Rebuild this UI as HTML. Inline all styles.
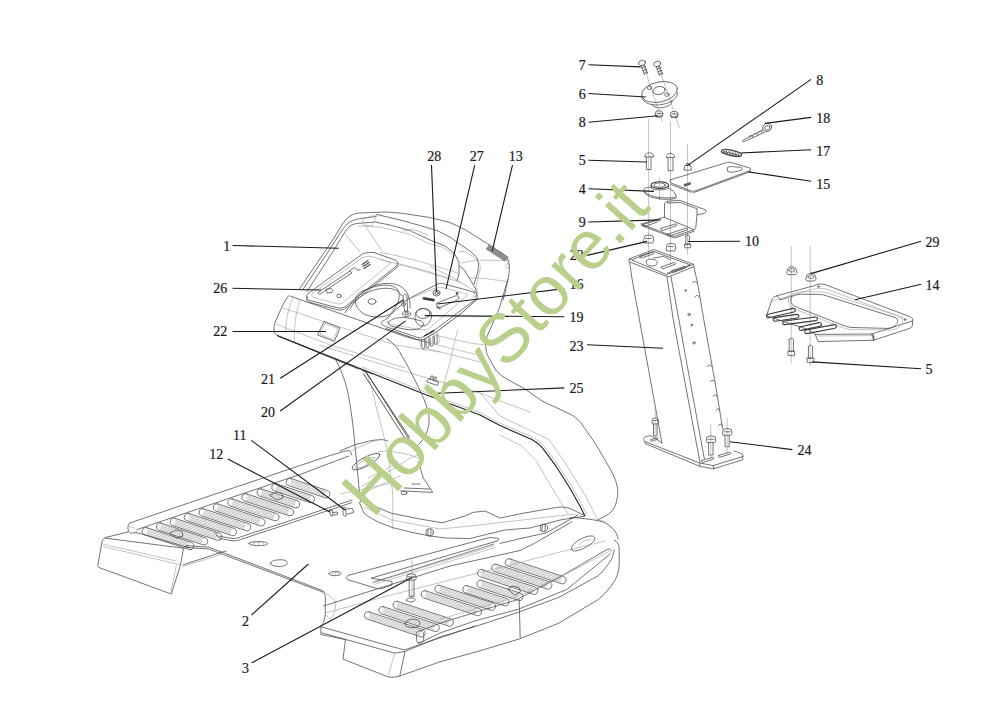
<!DOCTYPE html>
<html><head><meta charset="utf-8"><title>Parts diagram</title>
<style>
html,body{margin:0;padding:0;background:#fff;width:1000px;height:707px;overflow:hidden}
svg{display:block}
.lb{font-family:"Liberation Serif",serif;font-size:14px;fill:#1a1a1a;stroke:#1a1a1a;stroke-width:0.2}
.ld{stroke:#1a1a1a;stroke-width:1.1;fill:none}
.d{stroke:#505050;stroke-width:0.8;fill:none;stroke-linejoin:round;stroke-linecap:round}
.t{stroke:#9a9a9a;stroke-width:0.6;fill:none;stroke-linejoin:round;stroke-linecap:round}
.k{stroke:#222;stroke-width:1.1;fill:none;stroke-linejoin:round;stroke-linecap:round}
.wm{font-family:"Liberation Sans",sans-serif;fill:#b3cd85}
</style></head><body>
<svg width="1000" height="707" viewBox="0 0 1000 707">
<rect width="1000" height="707" fill="#fff"/>
<g id="right-assembly">
<!-- screws 7 and axis lines -->
<g class="t">
<line x1="643" y1="64" x2="662.3" y2="121.7"/>
<line x1="658" y1="65" x2="679.3" y2="127.4"/>
<line x1="648.6" y1="119.5" x2="648.6" y2="258"/>
<line x1="670.5" y1="121.7" x2="670.5" y2="265"/>
<line x1="687.5" y1="144" x2="687.5" y2="254"/>
<line x1="791.2" y1="246.5" x2="791.2" y2="363"/>
<line x1="810.2" y1="246.5" x2="810.2" y2="365"/>
</g>
<g class="d">
<ellipse cx="642" cy="63" rx="3.6" ry="2.6" transform="rotate(-20 642 63)"/>
<path d="M641,65.5 L644.5,74.5 M644.2,64.7 L647.5,73.6 M641.8,68 l4,-1.4 M642.8,70.8 l4,-1.4 M643.8,73.4 l3.6,-1.2"/>
<ellipse cx="657.2" cy="64" rx="3.6" ry="2.6" transform="rotate(-20 657.2 64)"/>
<path d="M656.3,66.5 L659.5,75.5 M659.4,65.7 L662.6,74.6 M657,69 l4,-1.4 M658,71.8 l4,-1.4 M659,74.4 l3.6,-1.2"/>
<!-- flange 6 -->
<ellipse cx="659.5" cy="92" rx="18.2" ry="10" transform="rotate(-12 659.5 92)"/>
<path d="M641.8,97 C643,104 653,106 662,104.5 C672,102.5 678,98 677.5,93"/>
<path d="M652,104.5 C654,108.5 662,108.8 668,106 C671,104.5 672.5,102.5 672,100.5"/>
<ellipse cx="659" cy="90.5" rx="6.2" ry="4" transform="rotate(-12 659 90.5)"/>
<ellipse cx="649.3" cy="87.8" rx="2.4" ry="1.7"/>
<ellipse cx="666.9" cy="94.6" rx="2.4" ry="1.7"/>
<!-- nuts 8 -->
<ellipse cx="659" cy="113.6" rx="3.8" ry="3"/>
<path d="M655.4,114.5 L656,117 L662,117 L662.6,114.5 M657,113.4 l4,0"/>
<ellipse cx="674.2" cy="114.2" rx="3.8" ry="3"/>
<path d="M670.6,115 L671.2,117.6 L677.2,117.6 L677.8,115 M672.2,114 l4,0"/>
<!-- bolts 5 -->
<path d="M644.7,156.5 C644.7,151.5 653.8,151.5 653.8,156.5 Z M646.4,157 L646.4,169.5 L651,169.5 L651,157"/>
<path d="M666.2,157 C666.2,152 674.7,152 674.7,157 Z M668,157.6 L668,170.7 L673,170.7 L673,157.6"/>
<!-- nut 8 on plate -->
<path d="M684,169.8 L684.8,165.4 L690.5,165.4 L691.4,169.8 Z M686,165.4 L686.5,163.6 L689,163.6 L689.6,165.4"/>
<!-- part 4 bushing -->
<ellipse cx="659.8" cy="185.1" rx="8.8" ry="3.3" stroke="#333" stroke-width="1.1"/>
<ellipse cx="659.6" cy="185.1" rx="5.8" ry="2.2" stroke="#444"/>
<path class="t" d="M659.5,177.8 L659.5,199.4"/>
<path d="M651,185.5 L651.3,188.3 C653,190.5 666,190.5 668.5,188 L668.6,185.3"/>
<path d="M651,187.5 C646,186.8 643,188.5 644.2,191 C645.5,194 652,196.6 660,197.6 C668,198.2 675,198 676.5,196.5 L674.2,192 C673,190.5 670.5,189.5 668.6,188.5"/>
<path d="M644.2,191 L644.4,192.4 C646,195.5 652,198 660,199 C668,199.6 675,199.4 676.6,197.8"/>
<!-- plate 15 -->
<path d="M670.6,179.8 L726.5,162.6 C728,162 730,162 731,162.4 L750.3,168.2 L750.3,170.5 L695,191 C693.8,191.4 692.5,191.4 691.4,191 L671.3,183.1 Z"/>
<path d="M693.5,192.6 L750.3,171.8 M691.4,192.3 L671.3,184.6"/>
<path d="M727.5,167.5 C729,166 734,166.5 735.5,167 L741,167.2 C742.5,167.8 742.5,170 741,170.5 L736,171.6 C734.5,172.2 730,172.6 728,171.5 Z"/>
<path d="M684.4,184.6 L690,182.7 L690.4,184 L684.8,185.9 Z" stroke-width="1.2"/>
<!-- 17 grommet -->
<path d="M722.5,149.8 C727,148.5 737,151 741,153.5 C742.5,155 741,157 738,156.6 C733,156 725,154 722,152.5 C720.8,151.6 721.3,150.2 722.5,149.8 Z" stroke-width="1.4"/>
<path d="M724,151.6 l15.5,3.8 M723.2,150.6 l1.5,2.6 M726,150.6 l1.5,3 M729,151.2 l1.5,3 M732,152 l1.5,3 M735,152.8 l1.5,3 M738,153.8 l1.2,2.4" stroke="#555" stroke-width="0.9"/>
<!-- 18 clip pin -->
<ellipse cx="767.2" cy="127.4" rx="4.6" ry="4" transform="rotate(-25 767.2 127.4)"/>
<ellipse cx="767.4" cy="127.8" rx="2.6" ry="2.3" transform="rotate(-25 767.4 127.8)"/>
<path d="M763,130 L742.5,140.6 L743.5,142 L764.5,132.3 M749,136.4 C751,134.6 754,135.6 753,137.6 M754,134 C756.5,132.4 759,133.8 757.5,135.8 M758.5,131.8 C761,130.2 763.5,131.6 762,133.6"/>
</g>
<!-- bracket 9 -->
<g class="d">
<path d="M664.5,217.2 L664.5,203.8 C664.8,202.3 666,201.5 667.4,201.3 L679.8,200.4 L705.3,209.8 L705.9,211.5 L704.2,213.5 L697,214.8 L695.7,228.5 L694,229.8"/>
<path d="M667.4,201.3 L667.6,203.2 L680,202.4 L697,208.8 L697,214.8"/>
<path d="M641.3,224 L664,217.2 L694,229.6 L674.5,236.4 Z"/>
<path d="M641.4,225.6 L674.5,238 L694.2,231.2"/>
<path d="M643.2,224.5 L656,220.6 C657.5,220.3 658.2,221.6 657,222.2 L644.8,226.5 C643.5,226.8 642.5,225 643.2,224.5 Z"/>
<path d="M661,228.5 L675,224 C676.5,223.6 678,225 676.5,225.6 L663,230.5 C661.3,231 660,229 661,228.5 Z"/>
<path d="M667,234.4 L686,228.2 C687.5,227.8 688.5,229.4 687,230 L669.6,236 C668,236.4 666.2,235 667,234.4 Z"/>
<!-- nuts 22 -->
<path d="M643.8,240 L644.8,236 L648.6,234.8 L652.8,236 L653.8,240 L652.6,243 L644.8,243 Z M646,238.5 l5,0"/>
<path d="M666.3,248 L667.3,244.2 L670.8,243.2 L675,244.2 L675.8,248 L674.6,251 L667.3,251 Z M668.4,246.6 l5,0"/>
<!-- bolt 10 -->
<path d="M685.8,236 L685.8,244.5 L689.4,244.5 L689.4,236 C689.4,234.8 685.8,234.8 685.8,236 Z M684.4,244.5 L684.8,247.8 L690.4,247.8 L690.8,244.5 Z"/>
</g>
</g>
<g id="column" class="d">
<!-- top face -->
<path d="M629.6,258.7 L653.9,249.6 L693.5,264.3 L667,274.5 Z"/>
<path d="M632.5,259.5 L654,251.6 L690.5,265 L667.5,273"/>
<path d="M629.6,258.7 C628.5,259.5 628.6,261.5 629.6,262 L667,276.5 C668.5,277 670,276.5 671,275.8 L693.5,266.8 C694.5,266.2 694.3,264.8 693.5,264.3"/>
<path d="M640,256.2 L652,252 C653.5,251.6 654.8,253.2 653.5,253.8 L641.6,258 C640,258.4 639,256.6 640,256.2 Z"/>
<path d="M646.3,261.5 C646.3,259.5 650,258.5 654,259.5 C657,260.5 657.8,262.4 657,264 C655.6,266.4 650,266.6 647.6,265 C646.6,264.3 646.3,263 646.3,261.5 Z"/>
<path d="M653.5,258 L663,256.5 C665,256.5 668,258.8 670,259.8"/>
<path d="M661.5,266.8 L674,262.5 C675.5,262.2 676.6,263.8 675.2,264.3 L663,268.8 C661.5,269.2 660.5,267.4 661.5,266.8 Z"/>
<path d="M672,270.6 L684,266.5 C685.5,266.2 686.3,267.6 685,268.2 L673.5,272.4 C672,272.8 671,271 672,270.6 Z"/>
<!-- edges -->
<path d="M629.6,262 L632.2,280 L648.6,370 L661.9,442.8"/>
<path d="M667,276.5 L673.2,319.2 L682.7,370 L699.8,461.5"/>
<path d="M670.8,276 L678.8,319.2 L688,370 L704.3,458.5"/>
<path d="M693.8,266.8 L697.6,283 L703.7,319.2 L715.4,384 L722.6,428.5"/>
<!-- notches on right edge -->
<path d="M692.6,282.8 C693,281 696.2,281 697.3,283.2 M694.8,297.2 C695.2,295 698.6,294.6 699.3,297 M707.5,366.5 C708,364.5 711,364.6 711.7,366.6 M710.2,381.8 C710.8,379.8 713.8,379.8 714.6,381.8 M713.2,396.2 C713.8,394.2 716.6,394.2 716.9,396.4 M716.2,410.2 C716.8,408.2 719.4,408.2 719.6,410.4 M718.4,425.8 C719,423.6 721.8,423.6 722.2,425.6"/>
<circle cx="685.7" cy="290.4" r="0.9"/>
<circle cx="689" cy="314.5" r="1.2"/>
<circle cx="691.7" cy="325" r="0.9"/>
<circle cx="693.9" cy="342.9" r="1.2"/>
<!-- base plate -->
<path d="M661.9,442.8 L650.5,435.6 C647,436.2 644.5,436.8 644.1,437.6 C643.2,438.6 643.4,440.5 644.9,441.6 L699.8,463 L713.2,465.6 L742.9,456.5 L742.6,454.2 L734,450.8"/>
<path d="M644.9,441.6 L645,443.5 L699.8,466.3 L713.6,468.8 L742.6,459.8 L742.9,456.5"/>
<path d="M699.8,463 L699.8,466.3 M713.4,465.6 L713.6,468.8"/>
<path d="M701.8,460.4 L712.5,457.4 C714,457.2 714.6,458.7 713.2,459.2 L703,462.5 C701.5,462.8 700.8,461 701.8,460.4 Z"/>
<path d="M718.8,455.4 L729.6,452.2 C731,452 731.6,453.5 730.2,454 L719.8,457.3 C718.5,457.6 717.8,455.8 718.8,455.4 Z"/>
<path d="M650.2,440 L657,437.8 C658,437.6 658.6,438.9 657.6,439.2 L651,441.4"/>
<!-- bolts 24 -->
<path d="M652,422.5 L652.6,418.8 L655.2,417.8 L658,418.8 L658.6,422.5 L657.5,424 L653,424 Z M653.5,424 L653.5,436 L657,436 L657,424 M653.5,420.5 l4,0"/>
<path d="M706.2,441 L706.8,437 L711,435.8 L715.2,437 L715.8,441 L714.6,442.6 L707.4,442.6 Z M708.6,442.6 L708.6,455 L713,455 L713,442.6 M708,439.3 l6,0"/>
<path d="M722.4,433.6 L723,429.6 L727.2,428.4 L731.4,429.6 L732,433.6 L730.8,435.2 L723.6,435.2 Z M725,435.2 L725,446.8 L729.2,446.8 L729.2,435.2 M724.2,431.8 l6,0"/>
</g>
<g class="t">
<line x1="655.2" y1="408" x2="655.2" y2="440"/>
<line x1="710.8" y1="425" x2="710.8" y2="460"/>
<line x1="727.2" y1="418" x2="727.2" y2="453"/>
</g>
<g id="bracket14" class="d">
<path d="M766.4,315.8 L772,299.6 C773,297.5 774.5,296.4 776.5,295.9 L814.4,285.6 C816.5,284.4 819,283.8 821.5,284 L825,284.6 L909.6,316.6 C911.8,317.4 913,318.6 912.8,320 L912.2,326.4 C912,327.2 911,327.8 910,328.2 L873.8,340.2 L818,341.6 L815.2,334.4 L808,329.5 L766.4,315.8"/>
<path d="M815.2,334.4 L871.8,334 L873.8,340.2 M871.8,334 C873.4,334.2 873.6,339.6 873.8,340.2 M871.8,334 L912.2,321"/>
<path d="M817,336 L872,335.6" class="t"/>
<path d="M776.5,295.9 C778.5,297 780,298.2 780,300 L792.5,296 C795,295 797.5,294.5 800.5,294.3 L819.5,294.4 C822,294.5 824.5,295 827,296 L895,317.5 C898,318.6 898,321 897,323.5 L894.5,326 C893,327.4 890.5,328.2 887.5,328.4 L852,327.5 C849.5,327.3 847,326.8 845,326 L797.5,307.5 C793.5,306 791,303.6 790.8,300.6 C790.8,298.5 791.5,297 792.5,296"/>
<path d="M788.5,299.5 C787,297.6 788.5,295.5 791.5,294.2 C795,292.8 800,292 805,291.8 L820,291.8 C823,291.9 826,292.5 829,293.5 L900,316.5 C903,317.8 903,321 901.5,324.5 C900,327.5 896,329.6 890,330 L851,329.6 C848,329.4 845.5,328.8 843,327.8 L795,309.2 C790.5,307.4 788,304.4 788.5,299.5" class="t"/>
<path d="M772,301 L810,290 C815,288.6 820,288.2 826,288.8 L905,318.5" class="t"/>
<!-- slots -->
<path d="M768.1,314.2 L793.1,308.4 A1.8,1.8 0 0 1 793.9,312.0 L768.9,317.8 A1.8,1.8 0 0 1 768.1,314.2 Z" stroke="#3a3a3a" stroke-width="1.1"/>
<path d="M774.7,317.6 L796.7,314.4 A1.8,1.8 0 0 1 797.3,318.0 L775.3,321.2 A1.8,1.8 0 0 1 774.7,317.6 Z" stroke="#3a3a3a" stroke-width="1.1"/>
<path d="M784.3,321.0 L815.4,317.0 A1.8,1.8 0 0 1 815.8,320.6 L784.7,324.6 A1.8,1.8 0 0 1 784.3,321.0 Z" stroke="#3a3a3a" stroke-width="1.1"/>
<path d="M800.6,326.8 L819.2,322.6 A1.8,1.8 0 0 1 820.0,326.2 L801.4,330.4 A1.8,1.8 0 0 1 800.6,326.8 Z" stroke="#3a3a3a" stroke-width="1.1"/>
<path d="M806.2,330.0 L834.3,324.6 A1.8,1.8 0 0 1 834.9,328.2 L806.8,333.6 A1.8,1.8 0 0 1 806.2,330.0 Z" stroke="#3a3a3a" stroke-width="1.1"/>
<circle cx="818.5" cy="286.6" r="0.9"/>
<circle cx="905" cy="319.6" r="0.9"/>
<path d="M872.6,334.2 C874.4,334.6 874.6,339.4 873,340" />
<!-- nuts 29 -->
<path d="M786.6,272.6 L787.8,268.6 L791.8,266.2 L795.8,268.6 L797,272.6 L795.4,274.6 L788.2,274.6 Z M789,270.6 C789,267.8 794.6,267.8 794.6,270.6 C794.6,272.4 789,272.4 789,270.6 Z"/>
<path d="M805.8,279 L807,275 L811,272.6 L815,275 L816.2,279 L814.6,281 L807.4,281 Z M808.2,277 C808.2,274.2 813.8,274.2 813.8,277 C813.8,278.8 808.2,278.8 808.2,277 Z"/>
<!-- bolts 5 -->
<path d="M789.2,339.6 L789.2,351.5 L793.4,351.5 L793.4,339.6 C793.4,337.8 789.2,337.8 789.2,339.6 Z M787.8,351.5 L788.2,355.6 L794.4,355.6 L794.8,351.5 Z"/>
<path d="M808.4,346.6 L808.4,358.4 L812.6,358.4 L812.6,346.6 C812.6,344.8 808.4,344.8 808.4,346.6 Z M807,358.4 L807.4,362.6 L813.6,362.6 L814,358.4 Z"/>
</g>
<g id="hood">
<g class="d">
<!-- outer visor line A -->
<path d="M299.7,288.6 L327.6,247.5 L334,238 L340,228 C343,223 346.5,218.5 350,216 C353,214 356,213.3 360,213 L385.7,212 L400,213 L430,217.5 L450,222.5 L465,229.5 L487.5,243.8 L496,250"/>
<!-- second rim line -->
<path d="M302.5,290 L330,249 L337,238 C341,231 345,225.5 349,222.5 C353,220 358,218.6 364,218 L376,216.5"/>
<!-- B inner rim -->
<path d="M307,291.5 L334,250 L341,238.5 C343.5,234 346.5,229 350,226 C353,223.8 358,223.2 363,223 L375,222 L390,225 L410,230.6 L430,240 L445,246 L454,253 L459,262 L459,273.5 L457,281"/>
<!-- C line -->
<path d="M377,214.5 L400,220 L420,225.5 L437,230.5 L450,237 L459.2,243.8 L470,251 L476.5,257 C479,262 479,268 477,275 L474,284"/>
<!-- D light -->
<path class="t" d="M358,226 L380,227 L410,234.5 L430,244 L442,247 L456,256.6"/>
<!-- corner quad -->
<path class="t" d="M363,219 L377,214.5 L372,226 L364,225 Z"/>
<!-- creases -->
<path class="t" d="M345,234 L360,252 M366,227 L382,251"/>
<!-- right side of hood -->
<path d="M496,250 C503,253 507,256 508.5,261 C510,266 509.5,272 508,279 L505,293 L503,300"/>
<path class="t" d="M459.4,251.5 L465.1,251.5 L475.3,258.3 L479.8,264 L480.4,268.5 L478.7,275.3 L475.3,290 L473,298"/>
<path class="t" d="M461.7,262.8 L477.6,260 L509.3,260.6"/>
<path class="t" d="M469.6,277.6 L486.6,278.7 L507,281.5"/>
<path d="M460,266.2 L464,269.6 L476.4,290 C477.5,292 477.2,294.5 475.3,296.8"/>
<path class="t" d="M505.5,266 L507.5,262.8 L509.3,267 L507.5,268.6 Z"/>
<path class="t" d="M430,266.2 L452.6,277.6 L464,284.4 L476.4,292.3"/>
</g>
<path class="t" d="M380,252.3 L394,255 L422.5,262.2 L450.7,270.7 L459.2,273.5"/>
<path class="t" d="M380,259.4 L412.5,267.9 L450.7,279.2"/>
<path class="t" d="M396,263 L430,272 L460.4,282.5"/>
<path class="t" d="M403,231 L412,229 L428,235"/>
<!-- part 13 grey strip -->
<path d="M486,249 L489.5,244.6 L508.2,257.2 L505,261.2 Z" fill="#8c8c8c" stroke="#777" stroke-width="0.6"/>
<g class="d">
<!-- lower front box -->
<path d="M289,295.5 C285,300 282,306.8 282,306.8 L275.6,320.9 C273.8,325.5 273.6,330 274.5,332.5 C275.5,335 278,336 280.5,337 L358.4,369"/>
<path d="M277.7,335.8 L361.2,369.5 L372,374"/>
<path d="M290.5,296.2 L332.9,311 L380,327.5 L405,336.5 L430,343"/>
<path class="t" d="M294,296 C289,305 286,318 285.5,332 M300,300 C296,312 294,325 294.5,342"/>
<path class="t" d="M283,308 L340,327 L395,345 L440,352"/>
<path class="t" d="M276,324 L330,345 L380,360 L405,368"/>
<!-- square 22 -->
<path d="M324.4,321.6 L340,328 L334.3,341.4 L318,335.1 Z"/>
<path d="M325.4,323.6 L338,328.8 L333.4,339.6 L320.2,334.4 Z" class="t"/>
<!-- panel 26 -->
<path d="M362.5,254 C366,252.5 370,252.2 374,252.5 L395,260 C398,261.5 398.5,263.5 397,265.5 L346,306 C343.5,308 340.5,308.5 337.5,307.8 L310,300.5 C306.5,299.5 305.5,296.5 307.5,294 Z"/>
<path d="M307.5,297 C306.2,299.8 306.6,301.5 310,302.5 L337.5,309.8 C340.5,310.5 343.5,310 346,308 L397,267.5 C398.4,266.4 398.4,265.4 397,265.5" />
<path class="t" d="M312.5,293 L362,258 C365,256.2 369,256 372,256.6 L391,262.8 L343,302.5 C341,304 339,304.4 337,303.8 L314,297.5 C311.5,296.8 311,294.5 312.5,293 Z"/>
<path d="M318,292.6 L350,271 L352,272.8 L320,294.2 Z"/>
<path d="M349.5,271 L352.2,268.8 C353.6,267.6 355.6,267.6 356.6,268.8 L357.8,270.5 L360.2,269.4" />
<path d="M362,264.5 L368,260.5 M363,266.5 L369,262.5 M364,268.5 L370,264.5" stroke-width="1.3"/>
<path d="M326.5,289.2 L331,288.6 L333,290.4 L332,292.4 L327.5,293 Z"/>
<ellipse cx="339" cy="296" rx="2.2" ry="1.7"/>
<!-- loop cable and mouse shape -->
<path d="M345,313 C352,300 363,290 375,285.5 C387,281.5 399,283 405,290 C409,295 410.5,301 410,308"/>
<path d="M350,309 C356,298 366,291.5 378,289 C390,287 398,289 402,296"/>
<path d="M365,290 C378,284 393,283 398,290 C401,296 398,306 391,314 C384,318 372,318 364,314 C357,310 354,303 356,297 C358,293 361,291.5 365,290"/>
<ellipse cx="372" cy="301.5" rx="4" ry="2.8"/>
<!-- console -->
<path d="M407.6,299.2 L438,283.9 C439.5,283.3 441,283.2 442.2,283.4 L469.5,290.8 L475.8,292.9 C477.6,294 477.8,297 475.8,299.2 L459,311.8 L433.8,330.7 L424.4,336 C422.5,337.5 420.5,338 419.1,338 L385.5,326.5 C382,325.5 380.5,323.5 382,321.5 L384.5,320.2 Z"/>
<path d="M478,298.5 L461,313.5 L435.5,332.6 L426,338 C424,339.4 421.5,340.2 419,340.2 L386,328.6" stroke="#333"/>
<path d="M433.8,330.7 L424.4,336" stroke="#222" stroke-width="1.4"/>
<path class="t" d="M387,321.5 L393,309 C395,306 398,304 401,302.5 L433,289 C437,287.5 441,287.2 444.5,288 L468,294.5 L431,327 C429,329 426,330.5 422.5,330 L392,324.6 C389,324 386.5,323.4 387,321.5 Z"/>
<path d="M388.5,322.5 C391,318 400,316.5 410,318.2 L420,320.6 C424,321.6 424.5,324.5 422,326.8 L419.5,328.5 C416,330.2 410,330.2 404,329 L393,326.6 C390,326 388,324.4 388.5,322.5 Z"/>
<!-- key -->
<path d="M403,297 C402.5,294.5 405.5,293.2 407,295.3 L407.5,311 L405,311 Z"/>
<path d="M401.5,304 L404,302.5 L406,304 L403,306 Z"/>
<ellipse cx="406.5" cy="314" rx="4.2" ry="2.5"/>
<ellipse cx="406.5" cy="313.8" rx="2" ry="1.2"/>
<!-- knob 19 -->
<path d="M416,312.5 C418,308 426,307 430,311 C432.5,313.5 432,318 430,321 C428,324.5 426,326 422,326 C418,325.6 415.5,322 415,318 C414.8,316 415,314 416,312.5 Z"/>
<ellipse cx="423" cy="313.5" rx="7" ry="5"/>
<!-- button 28 -->
<ellipse cx="436.5" cy="293" rx="3.6" ry="3"/>
<ellipse cx="436.5" cy="293" rx="1.8" ry="1.5"/>
<!-- BIO -->
<path d="M423.5,297.2 L434.5,299.2 L434,301.2 L423,299.2 Z" fill="#333" stroke="#333" stroke-width="0.5"/>
<!-- switch 16 -->
<path d="M437,303 L455,296 C457,295.3 459,296 459,297.8 L458.5,299.5 L441,307 C439,307.8 436.5,307 436.5,305 Z"/>
<path d="M437,307 L440,308.6" stroke-width="1.3"/>
<circle cx="457" cy="293.5" r="1" fill="#333"/>
<!-- connectors under console -->
<path d="M421.5,339.5 L421.8,347.5 C422,349 424.5,349.2 424.8,347.6 L424.6,339.5 M425.8,338.8 L426.2,346.6 C426.4,348 428.8,348 429,346.5 L428.8,338 M430,337.6 L430.4,345.2 C430.6,346.6 433,346.4 433.2,345 L433,336.4 M434.2,335.8 L434.6,343.4 C434.8,344.8 437,344.4 437.2,343 L437,333.8"/>
<path class="t" d="M419,338.5 L420.5,346 M437.5,333 L440,341 L437.5,344"/>
</g>
</g>
<g id="body" class="d">
<!-- dark fender edge (double) -->
<path d="M277.7,335.8 L361.2,369 L425.2,394.5 L480,414.9 L500,425.6 L531.8,439.4 C536,441.5 539.5,444.5 542.4,447.9 L555.1,464.8 L570,488.2 L580.6,507.3 L584.8,515.7" stroke="#222" stroke-width="1.1"/>
<path class="t" d="M362,367 L425.5,392.3 L480,412.6 L500,423.2 L532.5,437.2 C537,439.5 541,442.5 544,446.2 L557,463.5 L572,487 L582.6,506.3 L587,514.6"/>
<!-- outer fender contour -->
<path d="M508,279 L499,309 L487.2,336 C485,342 485.5,350 487.2,354.7 L495.7,370 C498.5,373.5 502,376.5 505.8,378.5 L524.5,388.7 L542.4,401.2 L570,414 C574,416 577.5,419 580.6,422.4 L595.4,443.6 L610.3,469.1 C613.5,475 615.5,479.5 616.6,483.9 C617.8,488 618,491 617.7,494.5 C617.2,499 616.3,503.5 614.5,507.3 C612.5,511 609.5,513.8 606,515.7 L597.6,520"/>
<!-- light lines on fender -->
<path class="t" d="M320,345.3 L420,376 L480,392.8 L500,416 L548.8,439.4 L563.6,460.6 L584.8,494.5 L597.6,520"/>
<path class="t" d="M480,392.8 L500,401 L530,412"/>
<path class="t" d="M500,435.1 L521.2,445.7 L536,460.6 L550.9,486 L567.9,513.6"/>
<path class="t" d="M418.5,340.2 L480,355.5 M425,348 L480,362 M457.5,330 L450,362 L442.2,389.4"/>
<path class="t" d="M426,333 L470,343 L486,345"/>
<!-- tunnel -->
<path d="M335.3,358.9 C341,370 345,380 347.2,389.4 C351,408 353.5,428 354.4,440 L359.2,489.2 L360.8,502"/>
<path class="t" d="M367.5,375.8 C371,385 374,395 376,406.4 L382.4,430 L388,454 L392.8,494 L392.8,529.2"/>
<path d="M362.4,370.7 L366,372 L408.6,438.6 M365.4,371.2 L409.6,437.5 M363.5,373.8 L405.6,439.4" stroke="#333"/>
<path d="M386.2,338.5 C390,341 393.5,343.5 396.4,347 C404,358 414,378 421.9,394.5 C425,401 427.5,408 428.7,414.9 C430,423 428,432 423.6,438.6 C420.5,443 417,446.5 413.4,448.8"/>
<!-- clip 25 -->
<path d="M427,381 L428.5,378.5 L438.5,382 L437.5,385.5 L427,382 Z M430.5,379.5 L431,376 L433,376 L433,380 M433.8,380.6 L434.3,377 L436.2,377.2 L436,381.4"/>
<path class="t" d="M425,384 L428,390 L440,393"/>
<!-- under tunnel floor raised area -->
<path d="M340,450.8 L356,444.4 L372,440.4 L381.6,439.6 C384,439.6 386,440.3 388,441.2"/>
<ellipse cx="366" cy="461.6" rx="15.6" ry="4.4" transform="rotate(-28 366 461.6)"/>
<ellipse cx="365" cy="462.8" rx="11" ry="2.4" transform="rotate(-28 365 462.8)" class="t"/>

<path d="M400.8,490.8 L432.8,492.4 L423.2,478 L420,466.8 L418,462 M404,488 L430,489 M412,484 L420,484"/>
<ellipse cx="404" cy="493" rx="3" ry="1.7"/>
<path class="t" d="M362,486 L395,468 L410,458 L418,455 M370,490 L400,476 M340,494 L392.8,482.8"/>
<path class="t" d="M378,452 C385,450 397,452 410,455 L418,458 M385,470 L398,462 M368,478 L382,471"/>
<!-- fender lower parts -->
<path d="M359.2,502 L364,513.2 C370,518 376,521 380,522.8 L392.8,527.6 L412,532.4 L428,535.6 L445,538 L470,538.5 L505,530 L530,528 L560,520 L585,516"/>
<path d="M360.8,500.4 L391.2,513.2 L420,519 L442.4,522.8 L465,516 L472.8,512.4 L485,511 L500,518 L521.2,513.6 L557.3,507.3 C563,506.5 568,507.5 572.1,509.4 L584.8,515.7"/>
<path class="t" d="M364,507 L392,520 L440,529 L470,526 L505,522 L540,518 L575,514"/>
<circle cx="429.6" cy="532.4" r="3.8"/>
<path d="M428.2,529.4 L427.8,535.4 M431,529.4 L430.8,535.4"/>
<circle cx="543.8" cy="528" r="3.8"/>
<path d="M542.4,525 L542,531 M545.2,525 L545,531"/>
</g>
<path class="d" d="M147.1,527.8 L191.7,542.6 A3.7,3.7 0 0 1 189.4,549.6 L144.7,534.9 A3.7,3.7 0 0 1 147.1,527.8 Z" />
<path class="t" d="M146.6,533.9 L188.4,547.7" stroke="#bdbdbd" stroke-dasharray="1.2,0.9"/>
<path class="t" d="M147.1,532.5 L188.9,546.3" stroke="#bdbdbd" stroke-dasharray="1.2,0.9"/>
<path class="t" d="M147.6,531.1 L189.3,544.9" stroke="#bdbdbd" stroke-dasharray="1.2,0.9"/>
<path class="t" d="M148.0,529.7 L189.8,543.5" stroke="#bdbdbd" stroke-dasharray="1.2,0.9"/>
<path class="d" d="M161.0,523.2 L205.6,537.9 A3.7,3.7 0 0 1 203.3,544.9 L158.7,530.2 A3.7,3.7 0 0 1 161.0,523.2 Z" />
<path class="t" d="M160.6,529.3 L202.4,543.0" stroke="#bdbdbd" stroke-dasharray="1.2,0.9"/>
<path class="t" d="M161.0,527.8 L202.8,541.6" stroke="#bdbdbd" stroke-dasharray="1.2,0.9"/>
<path class="t" d="M161.5,526.4 L203.3,540.2" stroke="#bdbdbd" stroke-dasharray="1.2,0.9"/>
<path class="t" d="M162.0,525.0 L203.8,538.8" stroke="#bdbdbd" stroke-dasharray="1.2,0.9"/>
<path class="d" d="M175.1,518.4 L219.7,533.2 A3.7,3.7 0 0 1 217.4,540.2 L172.7,525.5 A3.7,3.7 0 0 1 175.1,518.4 Z" />
<path class="t" d="M174.6,524.5 L216.4,538.3" stroke="#bdbdbd" stroke-dasharray="1.2,0.9"/>
<path class="t" d="M175.1,523.1 L216.9,536.9" stroke="#bdbdbd" stroke-dasharray="1.2,0.9"/>
<path class="t" d="M175.6,521.7 L217.3,535.5" stroke="#bdbdbd" stroke-dasharray="1.2,0.9"/>
<path class="t" d="M176.0,520.3 L217.8,534.1" stroke="#bdbdbd" stroke-dasharray="1.2,0.9"/>
<path class="d" d="M189.2,513.6 L233.9,528.4 A3.7,3.7 0 0 1 231.5,535.4 L186.9,520.7 A3.7,3.7 0 0 1 189.2,513.6 Z" />
<path class="t" d="M188.8,519.7 L230.6,533.5" stroke="#bdbdbd" stroke-dasharray="1.2,0.9"/>
<path class="t" d="M189.3,518.3 L231.0,532.1" stroke="#bdbdbd" stroke-dasharray="1.2,0.9"/>
<path class="t" d="M189.7,516.9 L231.5,530.7" stroke="#bdbdbd" stroke-dasharray="1.2,0.9"/>
<path class="t" d="M190.2,515.5 L232.0,529.3" stroke="#bdbdbd" stroke-dasharray="1.2,0.9"/>
<path class="d" d="M203.5,508.8 L248.1,523.5 A3.7,3.7 0 0 1 245.8,530.6 L201.2,515.8 A3.7,3.7 0 0 1 203.5,508.8 Z" />
<path class="t" d="M203.0,514.9 L244.8,528.7" stroke="#bdbdbd" stroke-dasharray="1.2,0.9"/>
<path class="t" d="M203.5,513.5 L245.3,527.3" stroke="#bdbdbd" stroke-dasharray="1.2,0.9"/>
<path class="t" d="M204.0,512.1 L245.8,525.9" stroke="#bdbdbd" stroke-dasharray="1.2,0.9"/>
<path class="t" d="M204.4,510.7 L246.2,524.5" stroke="#bdbdbd" stroke-dasharray="1.2,0.9"/>
<path class="d" d="M217.8,503.9 L262.5,518.6 A3.7,3.7 0 0 1 260.1,525.7 L215.5,510.9 A3.7,3.7 0 0 1 217.8,503.9 Z" />
<path class="t" d="M217.4,510.0 L259.2,523.8" stroke="#bdbdbd" stroke-dasharray="1.2,0.9"/>
<path class="t" d="M217.9,508.6 L259.7,522.4" stroke="#bdbdbd" stroke-dasharray="1.2,0.9"/>
<path class="t" d="M218.3,507.2 L260.1,521.0" stroke="#bdbdbd" stroke-dasharray="1.2,0.9"/>
<path class="t" d="M218.8,505.8 L260.6,519.6" stroke="#bdbdbd" stroke-dasharray="1.2,0.9"/>
<path class="d" d="M232.3,499.0 L276.9,513.7 A3.7,3.7 0 0 1 274.6,520.7 L230.0,506.0 A3.7,3.7 0 0 1 232.3,499.0 Z" />
<path class="t" d="M231.9,505.1 L273.6,518.8" stroke="#bdbdbd" stroke-dasharray="1.2,0.9"/>
<path class="t" d="M232.3,503.7 L274.1,517.4" stroke="#bdbdbd" stroke-dasharray="1.2,0.9"/>
<path class="t" d="M232.8,502.2 L274.6,516.0" stroke="#bdbdbd" stroke-dasharray="1.2,0.9"/>
<path class="t" d="M233.3,500.8 L275.0,514.6" stroke="#bdbdbd" stroke-dasharray="1.2,0.9"/>
<path class="d" d="M246.9,494.0 L291.5,508.7 A3.7,3.7 0 0 1 289.2,515.7 L244.5,501.0 A3.7,3.7 0 0 1 246.9,494.0 Z" />
<path class="t" d="M246.4,500.1 L288.2,513.8" stroke="#bdbdbd" stroke-dasharray="1.2,0.9"/>
<path class="t" d="M246.9,498.6 L288.7,512.4" stroke="#bdbdbd" stroke-dasharray="1.2,0.9"/>
<path class="t" d="M247.4,497.2 L289.1,511.0" stroke="#bdbdbd" stroke-dasharray="1.2,0.9"/>
<path class="t" d="M247.8,495.8 L289.6,509.6" stroke="#bdbdbd" stroke-dasharray="1.2,0.9"/>
<path class="d" d="M261.5,488.9 L297.6,500.8 A3.7,3.7 0 0 1 295.3,507.8 L259.2,495.9 A3.7,3.7 0 0 1 261.5,488.9 Z" />
<path class="t" d="M261.1,495.0 L294.3,506.0" stroke="#bdbdbd" stroke-dasharray="1.2,0.9"/>
<path class="t" d="M261.6,493.6 L294.8,504.6" stroke="#bdbdbd" stroke-dasharray="1.2,0.9"/>
<path class="t" d="M262.0,492.2 L295.3,503.2" stroke="#bdbdbd" stroke-dasharray="1.2,0.9"/>
<path class="t" d="M262.5,490.8 L295.7,501.8" stroke="#bdbdbd" stroke-dasharray="1.2,0.9"/>
<path class="d" d="M276.3,483.8 L312.4,495.7 A3.7,3.7 0 0 1 310.1,502.7 L274.0,490.8 A3.7,3.7 0 0 1 276.3,483.8 Z" />
<path class="t" d="M275.9,489.9 L309.1,500.9" stroke="#bdbdbd" stroke-dasharray="1.2,0.9"/>
<path class="t" d="M276.3,488.5 L309.6,499.5" stroke="#bdbdbd" stroke-dasharray="1.2,0.9"/>
<path class="t" d="M276.8,487.1 L310.0,498.0" stroke="#bdbdbd" stroke-dasharray="1.2,0.9"/>
<path class="t" d="M277.3,485.7 L310.5,496.6" stroke="#bdbdbd" stroke-dasharray="1.2,0.9"/>
<path class="d" d="M291.2,478.6 L327.2,490.5 A3.7,3.7 0 0 1 324.9,497.6 L288.8,485.7 A3.7,3.7 0 0 1 291.2,478.6 Z" />
<path class="t" d="M290.7,484.7 L324.0,495.7" stroke="#bdbdbd" stroke-dasharray="1.2,0.9"/>
<path class="t" d="M291.2,483.3 L324.4,494.3" stroke="#bdbdbd" stroke-dasharray="1.2,0.9"/>
<path class="t" d="M291.7,481.9 L324.9,492.9" stroke="#bdbdbd" stroke-dasharray="1.2,0.9"/>
<path class="t" d="M292.1,480.5 L325.4,491.5" stroke="#bdbdbd" stroke-dasharray="1.2,0.9"/>
<path class="d" d="M131,522.6 L196,500.5 L260,479 L330,455.5 L347.4,450.5 C349.5,450 351,451.5 351.6,454.8" />
<path class="d" d="M136.7,529.7 L230,498 L300,474.5 L348.8,456" />
<path class="d" d="M131,522.6 C128,523.6 127.5,526 128.2,530 C128.6,532.5 130.5,533.6 133,533.2 L136.7,532.2" />
<path class="t" d="M129,527 C131,526.6 133.5,527 135,528.5" />
<path class="t" d="M351.6,450.4 L365,444.5 L380,439" />
<path class="d" d="M136.7,533 L142,534 L190,548 M215.2,532.8 C217,535 218.5,536.2 220,536.5 L232.8,538.4 C236,538.6 238.5,538 240.8,536.8 L292,520 L343,503 L352,500" />
<path class="d" d="M216.5,535.5 C218,537.6 220,538.6 222,539 L233,540.8 C236.5,541 239,540.4 241.6,539.2 L292.5,522.4 L343.5,505.4 L352,502.5" />
<path class="d" d="M105.6,537.5 L128.2,531.8" />
<path class="d" d="M105.6,537.5 C103.5,538.5 102.5,540 102,542 L97.8,565 C97.5,566.5 98,567.2 99.2,567.6 L171.3,594 L180.5,565 L183.4,549 C184,547 185.5,546 187.6,545.8" />
<path class="d" d="M105.6,538.2 L182.6,548.1" />
<path class="t" d="M104.1,546.7 L174.9,563.6 L180.5,565" />
<path class="t" d="M102.8,544 L176,561" />
<path class="t" d="M176.2,566 L171,592" />
<path class="d" d="M186.4,545.6 L208.8,547.2 L322.6,590.6 C324.5,592.5 325.5,596 325.4,599 L325.2,614.1 C325,619 323.5,623 321.8,626" />
<path class="t" d="M328.6,595.4 C332,597.5 334.5,600 335.4,602.2 C336,606 335,611 333.7,614.1 L330.3,619.2" />
<path class="t" d="M322.6,590.6 L328.6,595.4 M325.2,614.1 L330.3,619.2" />
<path class="d" d="M186.6,547.4 L208.6,549 L323.2,592.2" />
<path class="d" d="M183.2,564.8 L220,552.8 L226,551" />
<path class="t" d="M182.6,566.5 L221,554.5" />
<path class="d" d="M249,543.6 C249,540.8 267.6,540.8 267.6,543.6 C267.6,546.4 249,546.4 249,543.6 Z" />
<path class="t" d="M253.5,544.8 L254,542.2 L263,542.2 L263.5,544.8 M258.4,542 L258.4,545.2" />
<path class="d" d="M270.5,563.8 C270,560.6 276,559.6 282,559.8 C287.5,560 288.2,563.2 286,565 C283,567 272.5,567.4 270.5,563.8 Z" />
<path class="d" d="M329,573.6 C329,570.8 340.5,570.4 341,573.4 C341.4,576.4 329,576.6 329,573.6 Z" />
<path class="t" d="M332.5,574.4 L333,572.2 L338,572.2 L338.5,574.4 M335.4,571.6 L335.4,575.2" />
<path class="d" d="M329.5,510.5 L330.5,515.5 L333,516 L332.5,511 Z M333,512.5 L337.5,512 L337.5,514.5 L333.5,515" />
<path class="d" d="M342.6,508.5 C342,507 345,506.5 345.4,508 L346.2,515 C346.4,516.6 343.6,516.8 343.4,515.2 Z M346,509 L352.5,508.5 L353.8,512.5 L347,514" />
<path class="d" d="M369.4,612.0 L422.5,629.5 A3.7,3.7 0 0 1 420.2,636.6 L367.0,619.0 A3.7,3.7 0 0 1 369.4,612.0 Z" />
<path class="t" d="M368.9,618.1 L419.3,634.7" stroke="#bdbdbd" stroke-dasharray="1.2,0.9"/>
<path class="t" d="M369.4,616.7 L419.7,633.3" stroke="#bdbdbd" stroke-dasharray="1.2,0.9"/>
<path class="t" d="M369.9,615.3 L420.2,631.9" stroke="#bdbdbd" stroke-dasharray="1.2,0.9"/>
<path class="t" d="M370.3,613.9 L420.7,630.5" stroke="#bdbdbd" stroke-dasharray="1.2,0.9"/>
<path class="d" d="M383.4,606.7 L436.6,624.2 A3.7,3.7 0 0 1 434.3,631.3 L381.1,613.7 A3.7,3.7 0 0 1 383.4,606.7 Z" />
<path class="t" d="M383.0,612.8 L433.3,629.4" stroke="#bdbdbd" stroke-dasharray="1.2,0.9"/>
<path class="t" d="M383.5,611.4 L433.8,628.0" stroke="#bdbdbd" stroke-dasharray="1.2,0.9"/>
<path class="t" d="M383.9,610.0 L434.3,626.6" stroke="#bdbdbd" stroke-dasharray="1.2,0.9"/>
<path class="t" d="M384.4,608.6 L434.7,625.2" stroke="#bdbdbd" stroke-dasharray="1.2,0.9"/>
<path class="d" d="M397.5,601.4 L450.7,618.9 A3.7,3.7 0 0 1 448.4,626.0 L395.2,608.4 A3.7,3.7 0 0 1 397.5,601.4 Z" />
<path class="t" d="M397.1,607.5 L447.4,624.1" stroke="#bdbdbd" stroke-dasharray="1.2,0.9"/>
<path class="t" d="M397.6,606.1 L447.9,622.7" stroke="#bdbdbd" stroke-dasharray="1.2,0.9"/>
<path class="t" d="M398.0,604.7 L448.3,621.3" stroke="#bdbdbd" stroke-dasharray="1.2,0.9"/>
<path class="t" d="M398.5,603.3 L448.8,619.9" stroke="#bdbdbd" stroke-dasharray="1.2,0.9"/>
<path class="d" d="M425.7,590.8 L478.9,608.3 A3.7,3.7 0 0 1 476.5,615.4 L423.4,597.8 A3.7,3.7 0 0 1 425.7,590.8 Z" />
<path class="t" d="M425.2,596.9 L475.6,613.5" stroke="#bdbdbd" stroke-dasharray="1.2,0.9"/>
<path class="t" d="M425.7,595.5 L476.0,612.1" stroke="#bdbdbd" stroke-dasharray="1.2,0.9"/>
<path class="t" d="M426.2,594.1 L476.5,610.7" stroke="#bdbdbd" stroke-dasharray="1.2,0.9"/>
<path class="t" d="M426.6,592.7 L477.0,609.3" stroke="#bdbdbd" stroke-dasharray="1.2,0.9"/>
<path class="d" d="M439.8,585.5 L492.9,603.0 A3.7,3.7 0 0 1 490.6,610.1 L437.4,592.5 A3.7,3.7 0 0 1 439.8,585.5 Z" />
<path class="t" d="M439.3,591.6 L489.7,608.2" stroke="#bdbdbd" stroke-dasharray="1.2,0.9"/>
<path class="t" d="M439.8,590.2 L490.1,606.8" stroke="#bdbdbd" stroke-dasharray="1.2,0.9"/>
<path class="t" d="M440.3,588.8 L490.6,605.4" stroke="#bdbdbd" stroke-dasharray="1.2,0.9"/>
<path class="t" d="M440.7,587.4 L491.1,604.0" stroke="#bdbdbd" stroke-dasharray="1.2,0.9"/>
<path class="d" d="M467.3,585.7 L506.3,598.5 A3.7,3.7 0 0 1 504.0,605.6 L465.0,592.7 A3.7,3.7 0 0 1 467.3,585.7 Z" />
<path class="t" d="M466.9,591.8 L503.0,603.7" stroke="#bdbdbd" stroke-dasharray="1.2,0.9"/>
<path class="t" d="M467.4,590.4 L503.5,602.3" stroke="#bdbdbd" stroke-dasharray="1.2,0.9"/>
<path class="t" d="M467.8,589.0 L503.9,600.9" stroke="#bdbdbd" stroke-dasharray="1.2,0.9"/>
<path class="t" d="M468.3,587.6 L504.4,599.5" stroke="#bdbdbd" stroke-dasharray="1.2,0.9"/>
<path class="d" d="M481.4,580.4 L520.4,593.2 A3.7,3.7 0 0 1 518.0,600.3 L479.1,587.4 A3.7,3.7 0 0 1 481.4,580.4 Z" />
<path class="t" d="M481.0,586.5 L517.1,598.4" stroke="#bdbdbd" stroke-dasharray="1.2,0.9"/>
<path class="t" d="M481.5,585.1 L517.5,597.0" stroke="#bdbdbd" stroke-dasharray="1.2,0.9"/>
<path class="t" d="M481.9,583.7 L518.0,595.6" stroke="#bdbdbd" stroke-dasharray="1.2,0.9"/>
<path class="t" d="M482.4,582.3 L518.5,594.2" stroke="#bdbdbd" stroke-dasharray="1.2,0.9"/>
<path class="d" d="M482.0,569.6 L535.2,587.1 A3.7,3.7 0 0 1 532.9,594.2 L479.7,576.6 A3.7,3.7 0 0 1 482.0,569.6 Z" />
<path class="t" d="M481.6,575.7 L531.9,592.3" stroke="#bdbdbd" stroke-dasharray="1.2,0.9"/>
<path class="t" d="M482.0,574.3 L532.4,590.9" stroke="#bdbdbd" stroke-dasharray="1.2,0.9"/>
<path class="t" d="M482.5,572.9 L532.8,589.5" stroke="#bdbdbd" stroke-dasharray="1.2,0.9"/>
<path class="t" d="M483.0,571.5 L533.3,588.1" stroke="#bdbdbd" stroke-dasharray="1.2,0.9"/>
<path class="d" d="M496.1,564.3 L549.3,581.8 A3.7,3.7 0 0 1 546.9,588.9 L493.8,571.3 A3.7,3.7 0 0 1 496.1,564.3 Z" />
<path class="t" d="M495.6,570.4 L546.0,587.0" stroke="#bdbdbd" stroke-dasharray="1.2,0.9"/>
<path class="t" d="M496.1,569.0 L546.4,585.6" stroke="#bdbdbd" stroke-dasharray="1.2,0.9"/>
<path class="t" d="M496.6,567.6 L546.9,584.2" stroke="#bdbdbd" stroke-dasharray="1.2,0.9"/>
<path class="t" d="M497.0,566.2 L547.4,582.8" stroke="#bdbdbd" stroke-dasharray="1.2,0.9"/>
<path class="d" d="M510.2,559.0 L563.3,576.5 A3.7,3.7 0 0 1 561.0,583.6 L507.8,566.0 A3.7,3.7 0 0 1 510.2,559.0 Z" />
<path class="t" d="M509.7,565.1 L560.1,581.7" stroke="#bdbdbd" stroke-dasharray="1.2,0.9"/>
<path class="t" d="M510.2,563.7 L560.5,580.3" stroke="#bdbdbd" stroke-dasharray="1.2,0.9"/>
<path class="t" d="M510.7,562.3 L561.0,578.9" stroke="#bdbdbd" stroke-dasharray="1.2,0.9"/>
<path class="t" d="M511.1,560.9 L561.5,577.5" stroke="#bdbdbd" stroke-dasharray="1.2,0.9"/>
<path class="d" d="M405,623 C407,619 415,618 419,621 C421,624 419,627 414,627.5 C409,628 404,626.5 405,623 Z" />
<path class="d" d="M508,589 L513,586 L519,587.5 L520.5,592 L515,595 Z" />
<path class="d" d="M170,533 L176,530 L182,531.5 L183,536 L177,538 Z" />
<path class="d" d="M270,495 L276.5,492 L282,493.5 L283,498 L277,500 Z" />
<path class="d" d="M323.5,606 L380,588 L450,566 L520,550.5 L534.7,543.2 L572,521.7" />
<path class="d" d="M500,543.5 L520,538.6 L546,533 L572,518.3 L577.7,514.9" />
<path class="t" d="M326,613 L380,597.9 L450,580 L520,562.5 L560,552 L605,541" />
<path class="d" d="M320.9,626.8 L403.2,649.7 C404,650 404.6,650 405,649.7 L475,626" />
<path class="d" d="M320.9,626.8 L320.9,634.5 L345.5,639.6 L343,659.1 L388,676.9 C392,677.6 396,677.2 399.8,676 L440,661.8 L479.6,650.9 L519.2,639 L558.8,623.2 L598.4,599.4 C605,594 610,588 614.3,581.6 C617.5,576 619.2,570 619.2,563.8 L619.2,547.9 C619,544.5 617,541.5 614.3,540" />
<path class="d" d="M321.8,632.8 L394.7,653.1 L405,651.4 L399.8,676" />
<path class="t" d="M394.7,653.1 L388,676.9" />
<path class="d" d="M405,651.4 L440,637 L479.6,625.1 L518.2,612.3 L558.8,597.4 L598.4,575.6 C604,570 609,564 612.3,557.8 L614.3,549.9" />
<path class="d" d="M519.2,599.4 L520.2,638" />
<path class="d" d="M416.5,637 C415.5,633 417,630.8 420.2,630.8 L440,623.2 L475,612.4 L515.2,600.4 L558.8,577.6 L606.3,549.9 C608.5,548.6 610.5,548.8 611.5,550.5" />
<path class="d" d="M418,643 L423.6,641 L440,633 L475,620.9 L518.2,609.3 L566.7,589.5 L610.3,553.9" />
<path class="d" d="M416.5,637 C416.5,640 417,642.5 418,643 C420.5,643.5 422.5,642.6 423.6,641 L423.8,634 C423,631.5 421.5,630.8 420.2,630.8" />
<path class="t" d="M440,619.2 L515.2,597.4 L566.7,573.7 L610.3,550.9" />
<path class="d" d="M570.3,517.4 C580,518 590,519 599.7,521 C605,522.5 609.5,525 612.6,528.4 C616,532 617.8,535.5 618.1,539.4" />
<path class="t" d="M597.6,520 L606,521.5" />
<path class="d" d="M571.5,549.5 C570,546 578,539 587,536.5 C593,535 596,536.5 594.5,540 C593,543.5 585,548.5 578,550.5 C574.5,551.5 572.2,551 571.5,549.5 Z" />
<path class="t" d="M579,545 C582,541.5 587,539.5 591,539.8" />
<path class="d" d="M348,575.5 C346,576.5 346,578.5 348,579.8 L376,588.2 C378.5,589 381,588.8 383.3,588 L392,585 L392,581.5 L371,578.2 L497,541 C499,540.3 499.5,539 498,538.4 L490,537.5 Z" />
<path class="t" d="M372,583 L493,546 M375,584.2 L495,547.5" />
<path class="d" d="M374,582 L494,544" stroke-dasharray="1.2,1"/>
<path class="d" d="M406.5,578.5 L407.5,574.8 L411.5,573.6 L415.5,574.8 L416.3,578.5 L415,580.2 L408,580.2 Z M409.2,580.2 L409.2,596.5 L414,596.5 L414,580.2 M408,576.8 l7,0" />
<path class="d" d="M406.4,600.2 C406.2,597.5 414.5,597 415,599.6 C415.4,602.4 406.6,602.8 406.4,600.2 Z" />
<path class="t" d="M412,560 L412,598" />
<path class="t" d="M409,594 C409,597 415,597 415,594" />

<g class="ld">
<line x1="588.5" y1="64.8" x2="640.7" y2="66.9"/>
<line x1="588.5" y1="93.5" x2="645.9" y2="97"/>
<line x1="588.5" y1="122.3" x2="658.2" y2="115.7"/>
<line x1="588.5" y1="160.2" x2="646.9" y2="162"/>
<line x1="588.5" y1="188.7" x2="654" y2="191.4"/>
<line x1="588.3" y1="222" x2="660.7" y2="219.9"/>
<line x1="587.1" y1="255.4" x2="647.1" y2="241.4"/>
<line x1="587.1" y1="344.8" x2="663" y2="348.2"/>
<line x1="811.1" y1="79.4" x2="686.9" y2="165.9"/>
<line x1="811.1" y1="117.4" x2="765.1" y2="123.4"/>
<line x1="811.1" y1="149.7" x2="740.4" y2="153"/>
<line x1="811.1" y1="181.2" x2="748.3" y2="171.9"/>
<line x1="740" y1="241.2" x2="688" y2="241.5"/>
<line x1="921.1" y1="241.3" x2="810.9" y2="273.6"/>
<line x1="921.1" y1="284.3" x2="855" y2="299.7"/>
<line x1="921.1" y1="368.7" x2="812" y2="361.9"/>
<line x1="792.3" y1="449.6" x2="729.9" y2="441.8"/>
<line x1="232.5" y1="245.5" x2="338.75" y2="248.25"/>
<line x1="232.5" y1="288.25" x2="321" y2="290"/>
<line x1="232.5" y1="331.5" x2="326.2" y2="331.5"/>
<line x1="280.2" y1="378.2" x2="403.6" y2="299.7"/>
<line x1="280.2" y1="411" x2="405.7" y2="320.9"/>
<line x1="251.3" y1="440.4" x2="345" y2="510"/>
<line x1="227.7" y1="459.1" x2="330" y2="512"/>
<line x1="431.5" y1="165.1" x2="436.5" y2="292.3"/>
<line x1="474.7" y1="165.1" x2="446" y2="289"/>
<line x1="512.5" y1="165.1" x2="492.2" y2="251.2"/>
<line x1="564.4" y1="288.6" x2="437.5" y2="304"/>
<line x1="564.4" y1="316.8" x2="424.8" y2="315.6"/>
<line x1="564.4" y1="387.9" x2="438.2" y2="393.2"/>
<line x1="251.6" y1="615" x2="308.4" y2="564"/>
<line x1="251.6" y1="663" x2="412" y2="577.6"/>
</g>
<g class="lb">
<text x="578.8" y="70.4">7</text>
<text x="578.8" y="99.1">6</text>
<text x="578.8" y="127.4">8</text>
<text x="578.8" y="165.1">5</text>
<text x="578.8" y="194.4">4</text>
<text x="578.8" y="226.7">9</text>
<text x="569.8" y="260.0">22</text>
<text x="569.6" y="288.7">16</text>
<text x="569.6" y="322.0">19</text>
<text x="569.6" y="350.6">23</text>
<text x="569.6" y="393.2">25</text>
<text x="816.2" y="84.8">8</text>
<text x="816.2" y="123.0">18</text>
<text x="816.2" y="156.0">17</text>
<text x="816.2" y="189.1">15</text>
<text x="745.1" y="245.8">10</text>
<text x="925.4" y="246.5">29</text>
<text x="925.4" y="289.5">14</text>
<text x="925.4" y="374.3">5</text>
<text x="797.4" y="454.8">24</text>
<text x="223.3" y="250.8">1</text>
<text x="213.3" y="293.0">26</text>
<text x="213.3" y="336.0">22</text>
<text x="261.0" y="383.6">21</text>
<text x="261.0" y="416.8">20</text>
<text x="233.0" y="440.4">11</text>
<text x="209.2" y="459.1">12</text>
<text x="427.2" y="160.7">28</text>
<text x="469.7" y="160.7">27</text>
<text x="508.7" y="160.7">13</text>
<text x="242.0" y="625.6">2</text>
<text x="242.0" y="673.0">3</text>
</g>
<g transform="translate(373.1,519.4) rotate(-48.14)">
<text x="0" y="0" font-family="Liberation Sans" font-size="69" fill="#b8d08b">HobbyStore.it</text>
</g>

</svg>
</body></html>
